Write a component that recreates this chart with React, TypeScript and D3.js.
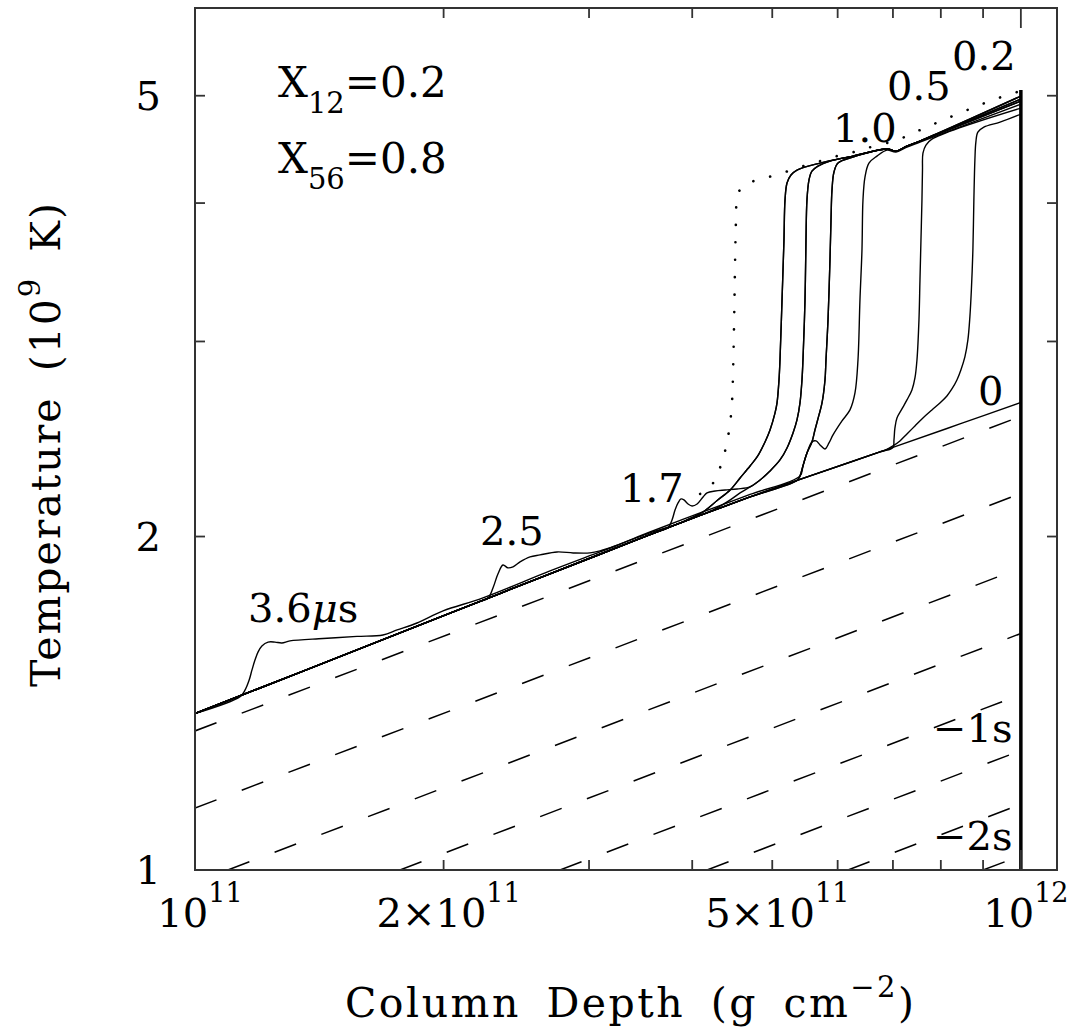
import React from 'react';
import * as d3 from 'd3';

type P = [number, number];

// Column depth in units of 1e11 g cm^-2, temperature in units of 1e9 K
const depthDomain: [number, number] = [1, 11.06];
const tempDomain: [number, number] = [1, 6];

const xMinorTicks = [2, 3, 4, 5, 6, 7, 8, 9];
const xDecadeTicks = [10];
const yTicks = [2, 3, 4, 5];
const xTickLabels = [
  { v: 1, pre: '10', sup: '11' },
  { v: 2, pre: '2×10', sup: '11' },
  { v: 5, pre: '5×10', sup: '11' },
  { v: 10, pre: '10', sup: '12' },
];
const yTickLabels = [1, 2, 5];

// t = 0 profile
const baseDepth = [1, 1.34, 1.771, 2.34, 3.093, 3.556, 4.089, 4.7, 5.402, 7.0, 8.437, 10];
const baseTemp = [1.3845, 1.5082, 1.6371, 1.7765, 1.9277, 2.0078, 2.0896, 2.1715, 2.2519, 2.4069, 2.5274, 2.6429];

// 3.6 microseconds
const c36Pts: P[] = [
  [1.134, 1.434], [1.15, 1.454], [1.163, 1.484], [1.172, 1.515], [1.182, 1.547], [1.192, 1.573],
  [1.205, 1.593], [1.226, 1.606], [1.25, 1.606], [1.274, 1.603], [1.303, 1.61], [1.429, 1.618],
  [1.571, 1.625], [1.689, 1.63], [1.757, 1.647], [1.857, 1.671], [1.997, 1.7134], [2.232, 1.7603],
  [2.691, 1.8619], [3.093, 1.9369], [3.556, 2.0149],
];
// 2.5 microseconds
const c25Pts: P[] = [
  [2.214, 1.7475], [2.263, 1.7592], [2.295, 1.797], [2.327, 1.85], [2.36, 1.885], [2.393, 1.874],
  [2.427, 1.878], [2.475, 1.897], [2.545, 1.917], [2.617, 1.925], [2.744, 1.937], [2.87, 1.933],
  [3.008, 1.933], [3.093, 1.941], [3.225, 1.961], [3.556, 2.019], [4.089, 2.1005], [4.7, 2.1829],
];
// 1.7 microseconds
const c17Pts: P[] = [
  [3.657, 2.0237], [3.739, 2.0368], [3.781, 2.0701], [3.813, 2.1135], [3.845, 2.1445], [3.877, 2.1625],
  [3.909, 2.158], [3.954, 2.14], [3.998, 2.1312], [4.055, 2.14], [4.123, 2.1715], [4.169, 2.1896],
  [4.264, 2.1987], [4.385, 2.2033], [4.533, 2.2079],
];
// burning fronts
const r1Pts: P[] = [
  [3.866, 2.0564], [3.976, 2.0766], [4.123, 2.1049], [4.288, 2.1557], [4.446, 2.2033], [4.571, 2.259],
  [4.7, 2.3161], [4.793, 2.3598], [4.9, 2.4345], [4.969, 2.496], [5.039, 2.5859], [5.067, 2.6402],
  [5.095, 2.7694], [5.109, 2.887], [5.138, 3.2703], [5.166, 3.7043], [5.181, 4.0255], [5.21, 4.1699],
  [5.268, 4.2398], [5.357, 4.2841], [5.712, 4.3468], [6.262, 4.4105], [6.885, 4.4751], [7.059, 4.4565],
  [7.279, 4.5031], [7.548, 4.5501], [10, 4.9964],
];
const r2Pts: P[] = [
  [4.089, 2.0896], [4.24, 2.1135], [4.409, 2.149], [4.571, 2.1896], [4.7, 2.2171], [4.833, 2.2496],
  [4.969, 2.2921], [5.109, 2.3451], [5.21, 2.4044], [5.298, 2.4805], [5.357, 2.5486], [5.402, 2.6402],
  [5.432, 2.7694], [5.447, 2.887], [5.478, 3.2703], [5.493, 3.7043], [5.508, 4.0255], [5.539, 4.196],
  [5.585, 4.2752], [5.68, 4.3197], [5.873, 4.3649], [6.262, 4.4105], [6.885, 4.4751], [7.059, 4.4565],
  [7.279, 4.5031], [7.548, 4.5501], [10, 4.9654],
];
const r34Common: P[] = [[5.357, 2.2472], [5.402, 2.2684], [5.447, 2.3161], [5.508, 2.3795], [5.585, 2.4345]];
const r3Tail: P[] = [
  [5.632, 2.496], [5.696, 2.5752], [5.744, 2.6402], [5.792, 2.7694], [5.808, 2.887], [5.841, 3.1378],
  [5.873, 3.5533], [5.89, 3.8615], [5.906, 4.1096], [5.939, 4.2663], [6.006, 4.3468], [6.262, 4.4013],
  [6.885, 4.4751], [7.059, 4.4565], [7.279, 4.5031], [7.548, 4.5501], [10, 4.9448],
];
const r4Tail: P[] = [
  [5.649, 2.4396], [5.712, 2.4194], [5.792, 2.3994], [5.857, 2.4295], [5.923, 2.4701], [6.073, 2.5433],
  [6.21, 2.6021], [6.297, 2.6956], [6.35, 2.887], [6.385, 3.2703], [6.421, 3.6281], [6.439, 4.0255],
  [6.475, 4.2222], [6.547, 4.3468], [6.695, 4.4105], [6.885, 4.4658], [7.059, 4.4473], [7.279, 4.4937],
  [7.548, 4.5407], [10, 4.914],
];
const r5Pts: P[] = [
  [6.752, 2.3844], [7.0, 2.4069], [7.02, 2.4446], [7.039, 2.5064], [7.079, 2.5592], [7.178, 2.6075],
  [7.279, 2.6567], [7.381, 2.7124], [7.443, 2.781], [7.485, 2.887], [7.527, 3.1378], [7.548, 3.4092],
  [7.569, 3.7043], [7.59, 4.0255], [7.601, 4.2841], [7.611, 4.4381], [7.675, 4.5125], [7.804, 4.5691],
  [10, 4.8733],
];
const r6Pts: P[] = [
  [6.752, 2.3844], [6.846, 2.3919], [7.0, 2.4144], [7.138, 2.4396], [7.279, 2.4753], [7.443, 2.5169],
  [7.611, 2.5592], [7.804, 2.6021], [7.98, 2.6402], [8.137, 2.6789], [8.251, 2.7181], [8.367, 2.7694],
  [8.46, 2.8276], [8.555, 2.9051], [8.627, 3.0095], [8.675, 3.1574], [8.711, 3.3391], [8.748, 3.6281],
  [8.772, 4.0255], [8.797, 4.374], [8.821, 4.5407], [8.87, 4.6361], [9.02, 4.6846], [9.436, 4.7336],
  [10, 4.813],
];
// peak temperature (dotted)
const peakPts: P[] = [
  [4.089, 2.1851], [4.181, 2.2033], [4.288, 2.2731], [4.36, 2.3549], [4.409, 2.4345], [4.446, 2.5327],
  [4.471, 2.6567], [4.483, 2.8276], [4.496, 3.1378], [4.508, 3.5533], [4.521, 3.9019], [4.533, 4.0591],
  [4.597, 4.1353], [4.674, 4.1699], [4.9, 4.2135], [5.138, 4.2575], [5.402, 4.3108], [5.664, 4.3558],
  [5.923, 4.4013], [6.21, 4.4381], [6.511, 4.4844], [7.079, 4.5596], [7.402, 4.6265], [7.696, 4.6846],
  [8.047, 4.7533], [8.437, 4.823], [8.846, 4.8936], [9.249, 4.9551], [9.703, 5.0172], [10, 5.0486],
];
// pre-ignition cooling profiles (dashed): start point and temperature at 1e12
const dashStartDepth = [1, 1, 1.096, 1.771, 2.767, 4.169, 6.176, 9.0];
const dashStartTemp = [1.3352, 1.1375, 1, 1, 1, 1, 1, 1];
const dashEndTemp = [2.568, 2.1875, 1.873, 1.635, 1.44, 1.2817, 1.1464, 1.0302];
const wallTop = 5.06;

const FONT = 'DejaVu Serif';

export default function App() {
  const L = 195, R = 1057, T = 8, B = 870;
  const x = d3.scaleLog().domain(depthDomain).range([L, R]);
  const y = d3.scaleLog().domain(tempDomain).range([B, T]);
  const smooth = d3.line<P>().x(d => x(d[0])).y(d => y(d[1])).curve(d3.curveCatmullRom.alpha(0.5));
  const straight = d3.line<P>().x(d => x(d[0])).y(d => y(d[1]));

  const baseline: P[] = baseDepth.map((d, i) => [d, baseTemp[i]] as P);
  const before = (lim: number) => baseline.filter(p => p[0] < lim);

  const solidCurves: P[][] = [
    baseline,
    [...before(1.13), ...c36Pts, ...r1Pts],
    [...before(2.2), ...c25Pts, ...r34Common.slice(1), ...r3Tail],
    [...before(3.65), ...c17Pts, ...r2Pts.filter(p => p[0] >= 4.7)],
    [...before(3.86), ...r1Pts],
    [...before(4.08), ...r2Pts],
    [...before(5.3), ...r34Common, ...r3Tail],
    [...before(5.3), ...r34Common, ...r4Tail],
    [...before(6.7), ...r5Pts],
    [...before(6.7), ...r6Pts],
  ];

  const dashed: P[][] = dashStartDepth.map((d, i) => [[d, dashStartTemp[i]], [10, dashEndTemp[i]]] as P[]);

  const axisColor = '#333';
  const txt = { fontFamily: FONT, fill: '#000' } as const;

  return (
    <svg width={1077} height={1028} style={{ position: 'absolute', left: 0, top: 0, background: '#fff' }}>
      <rect x={0} y={0} width={1077} height={1028} fill="#fff" />
      <defs>
        <clipPath id="plot">
          <rect x={L} y={T} width={R - L} height={B - T} />
        </clipPath>
      </defs>
      <g clipPath="url(#plot)">
        {dashed.map((pts, i) => (
          <path key={'d' + i} d={straight(pts) || ''} fill="none" stroke="#000" strokeWidth={1.5} strokeDasharray="23 27" />
        ))}
        {solidCurves.map((pts, i) => (
          <path key={'s' + i} d={smooth(pts) || ''} fill="none" stroke="#000" strokeWidth={1.4} strokeLinejoin="round" />
        ))}
        <path d={smooth(peakPts) || ''} fill="none" stroke="#000" strokeWidth={2.6} strokeLinecap="round" strokeDasharray="0.1 17.3" />
        <path d={straight([[10, 1], [10, wallTop]]) || ''} fill="none" stroke="#000" strokeWidth={3.5} />
      </g>

      {/* frame */}
      <rect x={L} y={T} width={R - L} height={B - T} fill="none" stroke={axisColor} strokeWidth={2} />
      {xMinorTicks.map(v => (
        <g key={'xt' + v}>
          <line x1={x(v)} x2={x(v)} y1={B} y2={B - 10} stroke={axisColor} strokeWidth={1.8} />
          <line x1={x(v)} x2={x(v)} y1={T} y2={T + 10} stroke={axisColor} strokeWidth={1.8} />
        </g>
      ))}
      {xDecadeTicks.map(v => (
        <g key={'xd' + v}>
          <line x1={x(v)} x2={x(v)} y1={B} y2={B - 20} stroke={axisColor} strokeWidth={1.8} />
          <line x1={x(v)} x2={x(v)} y1={T} y2={T + 20} stroke={axisColor} strokeWidth={1.8} />
        </g>
      ))}
      {yTicks.map(v => (
        <g key={'yt' + v}>
          <line x1={L} x2={L + 10} y1={y(v)} y2={y(v)} stroke={axisColor} strokeWidth={1.8} />
          <line x1={R} x2={R - 10} y1={y(v)} y2={y(v)} stroke={axisColor} strokeWidth={1.8} />
        </g>
      ))}

      {/* tick labels */}
      {xTickLabels.map(t => (
        <text key={'xl' + t.v} x={x(t.v) + 5} y={927} textAnchor="middle" fontSize={40} {...txt}>
          {t.pre}
          <tspan dy={-25} fontSize={27}>{t.sup}</tspan>
        </text>
      ))}
      {yTickLabels.map(v => (
        <text key={'yl' + v} x={161} y={y(v) + 14} textAnchor="end" fontSize={40} {...txt}>{v}</text>
      ))}

      {/* axis titles */}
      <text x={345} y={1017} fontSize={41} letterSpacing={2.5} wordSpacing={10} {...txt}>
        Column Depth (g cm<tspan dy={-20} fontSize={29}>−2</tspan><tspan dy={20}>)</tspan>
      </text>
      <text transform="translate(60,687) rotate(-90)" fontSize={41} letterSpacing={2} wordSpacing={10} {...txt}>
        Temperature (10<tspan dy={-20} fontSize={29}>9</tspan><tspan dy={20}> K)</tspan>
      </text>

      {/* annotations */}
      <text x={278} y={97} fontSize={42} {...txt}>
        X<tspan dy={16} fontSize={29}>12</tspan><tspan dy={-16}>=0.2</tspan>
      </text>
      <text x={278} y={173} fontSize={42} {...txt}>
        X<tspan dy={16} fontSize={29}>56</tspan><tspan dy={-16}>=0.8</tspan>
      </text>

      <text x={952} y={70} fontSize={40} {...txt}>0.2</text>
      <text x={887} y={100} fontSize={40} {...txt}>0.5</text>
      <text x={833} y={142} fontSize={40} {...txt}>1.0</text>
      <text x={620} y={502} fontSize={40} {...txt}>1.7</text>
      <text x={480} y={545} fontSize={40} {...txt}>2.5</text>
      <text x={248} y={622} fontSize={40} {...txt}>3.6<tspan fontStyle="italic">μ</tspan>s</text>
      <text x={978} y={405} fontSize={40} {...txt}>0</text>
      <text x={933} y={742} fontSize={40} {...txt}>−1s</text>
      <text x={933} y={850} fontSize={40} {...txt}>−2s</text>
    </svg>
  );
}
